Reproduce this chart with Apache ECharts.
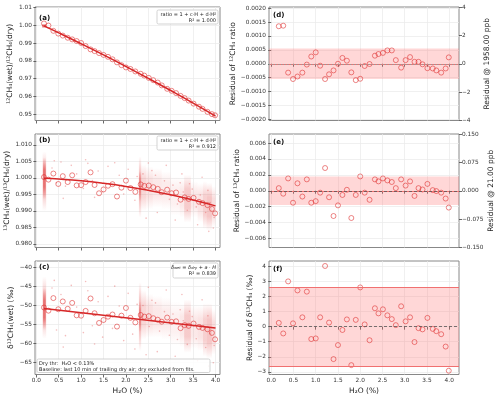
<!DOCTYPE html>
<html>
<head>
<meta charset="utf-8">
<script src="https://cdn.jsdelivr.net/npm/echarts@6/dist/echarts.min.js"></script>
<style>
  html, body { margin: 0; padding: 0; background: #fff; }
  #main { width: 500px; height: 399px; }
</style>
</head>
<body>
<div id="main"></div>
<script>
// bin centres, H2O (%)
var binX = [0.17, 0.27, 0.38, 0.49, 0.59, 0.70, 0.80, 0.90, 1.00, 1.10, 1.21, 1.30, 1.40, 1.50, 1.60, 1.70, 1.80, 1.90, 2.00, 2.10,
  2.21, 2.33, 2.41, 2.51, 2.61, 2.71, 2.80, 2.92, 3.02, 3.12, 3.22, 3.31, 3.40, 3.51, 3.63, 3.71, 3.82, 3.92, 3.99];

// (a) 12CH4 wet/dry ratio, binned
var ratio12 = [1.00105, 0.99987, 0.99689, 0.99534, 0.99422, 0.99302, 0.99210, 0.99116, 0.99007, 0.98834, 0.98648, 0.98552,
  0.98439, 0.98337, 0.98229, 0.98090, 0.97918, 0.97760, 0.97633, 0.97547, 0.97408, 0.97277, 0.97175, 0.97044, 0.96917,
  0.96783, 0.96623, 0.96431, 0.96319, 0.96190, 0.96033, 0.95907, 0.95770, 0.95599, 0.95425, 0.95303, 0.95136, 0.95008, 0.94942];
var fitAX = [0.17, 0.5, 1.0, 1.5, 2.0, 2.5, 3.0, 3.5, 4.0];
var fitAY = [0.99970, 0.99577, 0.98965, 0.98335, 0.97686, 0.97020, 0.96335, 0.95630, 0.94899];

// (b) 13CH4 wet/dry ratio, binned
var ratio13 = [1.00024, 0.99947, 1.00131, 0.99816, 1.00052, 0.99874, 1.00078, 0.99772, 0.99779, 0.99873, 1.00167, 0.99785,
  0.99534, 0.99649, 0.99762, 0.99809, 0.99435, 0.99704, 0.99916, 0.99691, 0.99576, 0.99802, 0.99757, 0.99769, 0.99718,
  0.99668, 0.99566, 0.99642, 0.99534, 0.99557, 0.99339, 0.99408, 0.99362, 0.99395, 0.99275, 0.99235, 0.99175, 0.99060, 0.98924];
var fitBX = [0.17, 0.5, 1.0, 1.5, 2.0, 2.5, 3.0, 3.5, 4.0];
var fitBY = [0.99991, 0.99966, 0.99912, 0.99836, 0.99741, 0.99624, 0.99487, 0.99329, 0.99151];

// (c) delta13CH4 wet (permil), binned
var delta = [-50.61, -51.44, -48.14, -51.07, -49.02, -50.95, -49.40, -52.67, -52.76, -51.50, -48.24, -52.12, -54.67, -53.89,
  -53.02, -52.45, -55.62, -52.75, -50.74, -53.32, -54.52, -52.57, -53.02, -52.88, -53.42, -53.82, -54.34, -53.25, -54.38,
  -54.24, -56.03, -55.23, -55.43, -54.82, -55.71, -55.97, -56.32, -57.28, -58.96];
var fitCX = [0.17, 4.0];
var fitCY = [-50.86, -56.00];

// residuals (d) 12CH4 ratio, (e) 13CH4 ratio, (f) delta13CH4
var res12 = [0.00135, 0.00137, -0.00032, -0.00055, -0.00046, -0.00032, -0.00003, 0.00026, 0.00041, -0.00007, -0.00055,
  -0.00038, -0.00024, 0.00000, 0.00021, 0.00011, -0.00031, -0.00059, -0.00054, -0.00008, -0.00001, 0.00029, 0.00035,
  0.00039, 0.00048, 0.00048, 0.00013, -0.00014, 0.00013, 0.00024, 0.00007, 0.00007, -0.00002, -0.00016, -0.00017,
  -0.00024, -0.00032, -0.00017, 0.00023];
var res13 = [0.00033, -0.00037, 0.00155, -0.00151, 0.00094, -0.00073, 0.00143, -0.00151, -0.00131, -0.00024, 0.00286,
  -0.00082, -0.00318, -0.00184, -0.00053, 0.00012, -0.00343, -0.00053, 0.00180, -0.00024, -0.00114, 0.00143, 0.00118,
  0.00155, 0.00130, 0.00110, 0.00033, 0.00143, 0.00065, 0.00118, -0.00065, 0.00033, 0.00016, 0.00086, 0.00008, -0.00004,
  -0.00024, -0.00098, -0.00212];
var resDelta = [0.25, -0.45, 3.00, 0.22, 2.40, 0.62, 2.32, -0.82, -0.78, 0.62, 4.02, 0.27, -2.15, -1.22, -0.22, 0.48, -2.55,
  0.45, 2.60, 0.15, -0.90, 1.22, 0.88, 1.15, 0.75, 0.50, 0.10, 1.35, 0.35, 0.62, -1.02, -0.10, -0.18, 0.58, -0.15, -0.30,
  -0.50, -1.32, -2.92];
var band12 = 0.00055, band13 = 0.0018, bandDelta = 2.6;

// raw-point clouds: [x from, x to, y low, y high, opacity]
var cloudA = [[0.13, 0.22, 0.9984, 1.0009, 0.7]];
var cloudB = [
  [0.14, 0.22, 0.9900, 1.0080, 0.30], [0.15, 0.21, 0.9935, 1.0062, 0.65],
  [2.29, 2.34, 0.9880, 1.0065, 0.35], [2.29, 2.34, 0.9930, 1.0020, 0.45],
  [2.34, 2.45, 0.9900, 1.0040, 0.22], [2.45, 2.60, 0.9905, 1.0035, 0.16],
  [2.60, 2.80, 0.9910, 1.0030, 0.12], [2.80, 3.00, 0.9905, 1.0020, 0.10],
  [3.00, 3.20, 0.9885, 1.0005, 0.08], [3.20, 3.30, 0.9880, 1.0000, 0.12],
  [3.30, 3.45, 0.9865, 1.0010, 0.28], [3.45, 3.60, 0.9880, 0.9990, 0.12],
  [3.60, 3.72, 0.9865, 0.9985, 0.15], [3.72, 3.80, 0.9845, 0.9990, 0.25],
  [3.80, 3.92, 0.9840, 0.9985, 0.30], [3.92, 4.00, 0.9850, 0.9975, 0.18]];
var cloudC = [
  [0.14, 0.22, -58.8, -42.5, 0.30], [0.15, 0.21, -56.5, -45.5, 0.65],
  [2.29, 2.34, -62.0, -44.0, 0.35], [2.29, 2.34, -57.0, -49.0, 0.45],
  [2.34, 2.45, -59.0, -46.0, 0.22], [2.45, 2.60, -58.5, -47.0, 0.16],
  [2.60, 2.80, -58.5, -47.5, 0.12], [2.80, 3.00, -59.0, -48.0, 0.10],
  [3.00, 3.20, -60.5, -49.0, 0.08], [3.20, 3.30, -61.0, -49.5, 0.12],
  [3.30, 3.45, -62.5, -48.5, 0.28], [3.45, 3.60, -61.5, -50.0, 0.12],
  [3.60, 3.72, -62.0, -50.0, 0.15], [3.72, 3.80, -63.5, -49.5, 0.25],
  [3.80, 3.92, -64.0, -49.5, 0.30], [3.92, 4.00, -63.0, -51.0, 0.18]];
var dotsB = [[0.35, 1.0030], [0.45, 0.9985], [0.55, 1.0048], [0.65, 0.9975], [0.78, 1.0038], [0.90, 1.0012], [1.05, 0.9968],
  [1.15, 1.0044], [1.25, 0.9992], [1.38, 1.0021], [1.48, 0.9958], [1.60, 1.0035], [1.70, 0.9979], [1.85, 1.0008],
  [1.95, 0.9951], [2.05, 1.0026], [2.15, 0.9972], [2.25, 1.0004], [0.60, 0.9938], [1.10, 1.0055], [1.75, 1.0046],
  [2.20, 0.9932], [0.40, 1.0052], [1.30, 0.9941], [2.50, 1.0045], [2.70, 0.9895], [2.90, 1.0038], [3.10, 0.9872],
  [3.25, 1.0012], [3.60, 0.9858], [3.95, 0.9848], [3.70, 1.0002], [2.45, 0.9878], [3.85, 0.9838],
  [2.38, 1.0012], [2.52, 0.9968], [2.66, 1.0008], [2.75, 0.9952], [2.86, 0.9991], [2.97, 0.9935], [3.05, 0.9978],
  [3.15, 0.9921], [3.28, 0.9957], [3.37, 0.9902], [3.48, 0.9966], [3.57, 0.9912], [3.66, 0.9948], [3.78, 0.9895],
  [3.88, 0.9925], [3.97, 0.9880], [3.42, 0.9982], [3.83, 0.9962], [2.58, 1.0022], [3.21, 0.9985]];
var dotsC = [[0.35, -45.5], [0.45, -56.5], [0.55, -47.2], [0.65, -58.0], [0.78, -44.8], [0.90, -50.5], [1.05, -57.2],
  [1.15, -46.2], [1.25, -55.4], [1.38, -49.1], [1.48, -58.4], [1.60, -47.7], [1.70, -56.1], [1.85, -50.2], [1.95, -59.3],
  [2.05, -46.9], [2.15, -57.6], [2.25, -49.8], [0.60, -61.0], [1.10, -43.8], [1.75, -45.0], [2.20, -61.5], [0.40, -43.5],
  [1.30, -60.2], [2.50, -45.3], [2.70, -62.2], [2.90, -46.0], [3.10, -63.4], [3.25, -47.2], [3.60, -64.6], [3.95, -65.1],
  [3.70, -48.6], [2.45, -63.0], [3.85, -66.0],
  [2.38, -50.1], [2.52, -55.6], [2.66, -49.4], [2.75, -56.8], [2.86, -51.7], [2.97, -57.9], [3.05, -52.3],
  [3.15, -59.0], [3.28, -54.1], [3.37, -60.3], [3.48, -53.0], [3.57, -58.8], [3.66, -55.2], [3.78, -61.1],
  [3.88, -57.4], [3.97, -60.6], [3.42, -51.6], [3.83, -52.8], [2.58, -48.7], [3.21, -51.2]];

// tick labels
var xTicks = [0, 0.5, 1, 1.5, 2, 2.5, 3, 3.5, 4];
var aTicks = [0.95, 0.96, 0.97, 0.98, 0.99, 1.00, 1.01];
var bTicks = [0.980, 0.985, 0.990, 0.995, 1.000, 1.005, 1.010];
var cTicks = [-65, -60, -55, -50, -45, -40];
var dTicks = [-0.002, -0.0015, -0.001, -0.0005, 0, 0.0005, 0.001, 0.0015, 0.002];
var dTicksR = [-4, -2, 0, 2, 4];
var eTicks = [-0.006, -0.004, -0.002, 0, 0.002, 0.004, 0.006];
var eTicksR = [-0.15, -0.075, 0, 0.075, 0.15];
var fTicks = [-3, -2, -1, 0, 1, 2, 3, 4];

var FONT = 'DejaVu Sans';
var RED = '#d62728';
var CIRC = 'rgba(222,45,45,0.85)';

function mn(s) { return s.replace(/-/g, '\u2212'); }
function fmt(d) { return function (v) { return mn(Number(v).toFixed(d)); }; }
function pairs(xs, ys) { return xs.map(function (x, i) { return [x, ys[i]]; }); }

function xAx(g, min, max, labels, name) {
  return {
    type: 'value', gridIndex: g, min: min, max: max,
    axisLine: { show: false },
    axisTick: { show: true, customValues: xTicks, length: 3, lineStyle: { color: '#444', width: 0.8 } },
    axisLabel: { show: labels, customValues: xTicks, formatter: fmt(1), fontSize: 5.8, color: '#333', fontFamily: FONT, margin: 3 },
    splitLine: { show: true, lineStyle: { color: '#e9e9e9', width: 0.7 } },
    name: name || '', nameLocation: 'middle', nameGap: 13,
    nameTextStyle: { fontSize: 7.5, color: '#222', fontFamily: FONT }
  };
}
function yAx(g, min, max, ticks, dec, name, gap, right) {
  return {
    type: 'value', gridIndex: g, min: min, max: max, position: right ? 'right' : 'left',
    axisLine: { show: false },
    axisTick: { show: true, customValues: ticks, length: 3, lineStyle: { color: '#444', width: 0.8 } },
    axisLabel: { customValues: ticks, formatter: fmt(dec), fontSize: 5.8, color: '#333', fontFamily: FONT, margin: 3 },
    splitLine: { show: !right, lineStyle: { color: '#e9e9e9', width: 0.7 } },
    name: name, nameLocation: 'middle', nameGap: gap, nameRotate: 90,
    nameTextStyle: { fontSize: 7.5, color: '#222', fontFamily: FONT }
  };
}

function cloudItem(params, api) {
  var p0 = api.coord([api.value(0), api.value(3)]);
  var p1 = api.coord([api.value(1), api.value(2)]);
  var a = api.value(4);
  return {
    type: 'rect',
    shape: { x: p0[0], y: p0[1], width: p1[0] - p0[0], height: p1[1] - p0[1] },
    style: {
      fill: new echarts.graphic.LinearGradient(0, 0, 0, 1, [
        { offset: 0, color: 'rgba(225,70,70,0)' },
        { offset: 0.3, color: 'rgba(225,70,70,' + a + ')' },
        { offset: 0.7, color: 'rgba(225,70,70,' + a + ')' },
        { offset: 1, color: 'rgba(225,70,70,0)' }])
    }
  };
}
function cloud(g, data) {
  return { type: 'custom', xAxisIndex: g, yAxisIndex: g, renderItem: cloudItem, data: data,
    encode: { x: [0, 1], y: [2, 3] }, clip: true, silent: true, z: 1 };
}
function dots(g, data) {
  return { type: 'scatter', xAxisIndex: g, yAxisIndex: g, data: data, symbolSize: 1.6,
    itemStyle: { color: 'rgba(225,70,70,0.45)' }, silent: true, z: 2 };
}
function circles(g, ys) {
  return { type: 'scatter', xAxisIndex: g, yAxisIndex: g, data: pairs(binX, ys), symbol: 'circle', symbolSize: 5,
    itemStyle: { color: 'rgba(0,0,0,0)', borderColor: CIRC, borderWidth: 0.85 }, z: 4 };
}
function fit(g, xs, ys) {
  return { type: 'line', xAxisIndex: g, yAxisIndex: g, data: pairs(xs, ys), showSymbol: false, smooth: true,
    lineStyle: { color: RED, width: 1.5 }, z: 5, silent: true };
}
function resid(g, ys, band, zeroStyle) {
  var s = circles(g, ys);
  s.markArea = { silent: true, itemStyle: { color: 'rgba(255,110,110,0.28)' }, data: [[{ yAxis: -band }, { yAxis: band }]] };
  s.markLine = { silent: true, symbol: 'none', label: { show: false },
    data: [
      { yAxis: band, lineStyle: { color: '#f07070', width: 1, type: 'solid' } },
      { yAxis: -band, lineStyle: { color: '#f07070', width: 1, type: 'solid' } },
      { yAxis: 0, lineStyle: zeroStyle }] };
  return s;
}

var L = 35, LW = 185, R = 269, RW = 190, H = 113.5, T = [7, 134, 261];

function legendBox(x, y, w, h) {
  return { type: 'rect', shape: { x: x, y: y, width: w, height: h, r: 1.5 },
    style: { fill: 'rgba(255,255,255,0.85)', stroke: '#c8c8c8', lineWidth: 0.8 }, z: 100 };
}
function panelTag(x, y, t) {
  return { type: 'text', x: x, y: y, z: 100,
    style: { text: t, font: 'bold 7px "DejaVu Sans"', fill: '#111' } };
}

var option = {
  animation: false,
  backgroundColor: '#fff',
  grid: [
    { left: L, top: T[0], width: LW, height: H },
    { left: L, top: T[1], width: LW, height: H },
    { left: L, top: T[2], width: LW, height: H },
    { left: R, top: T[0], width: RW, height: H },
    { left: R, top: T[1], width: RW, height: H },
    { left: R, top: T[2], width: RW, height: H }
  ].map(function (g) { g.show = true; g.borderColor = '#888'; g.borderWidth = 1; return g; }),
  xAxis: [
    xAx(0, -0.03, 4.1, false), xAx(1, -0.03, 4.1, false), xAx(2, -0.03, 4.1, true, 'H\u2082O (%)'),
    xAx(3, -0.05, 4.22, false), xAx(4, -0.05, 4.22, false), xAx(5, -0.05, 4.22, true, 'H\u2082O (%)')
  ],
  yAxis: [
    yAx(0, 0.9465, 1.0103, aTicks, 2, '\u00b9\u00b2CH\u2084(wet)/\u00b9\u00b2CH\u2084(dry)', 21),
    yAx(1, 0.9789, 1.0133, bTicks, 3, '\u00b9\u00b3CH\u2084(wet)/\u00b9\u00b3CH\u2084(dry)', 24),
    yAx(2, -68.2, -38.4, cTicks, 0, '\u03b4\u00b9\u00b3CH\u2084(wet) (\u2030)', 20),
    yAx(3, -0.002043, 0.002043, dTicks, 4, 'Residual of \u00b9\u00b2CH\u2084 ratio', 27),
    yAx(4, -0.007143, 0.007143, eTicks, 3, 'Residual of \u00b9\u00b3CH\u2084 ratio', 26),
    yAx(5, -3.17, 4.35, fTicks, 0, 'Residual of \u03b4\u00b9\u00b3CH\u2084 (\u2030)', 14),
    yAx(3, -4, 4, dTicksR, 0, 'Residual @ 1958.00 ppb', 24, true),
    yAx(4, -0.15, 0.15, eTicksR, 3, 'Residual @ 21.00 ppb', 24, true)
  ],
  series: [
    cloud(0, cloudA), circles(0, ratio12), fit(0, fitAX, fitAY),
    cloud(1, cloudB), dots(1, dotsB), circles(1, ratio13), fit(1, fitBX, fitBY),
    cloud(2, cloudC), dots(2, dotsC), circles(2, delta), fit(2, fitCX, fitCY),
    resid(3, res12, band12, { color: '#999', width: 1, type: [1.5, 1.5] }),
    resid(4, res13, band13, { color: '#555', width: 0.8, type: [3, 2] }),
    resid(5, resDelta, bandDelta, { color: '#555', width: 0.8, type: [3, 2] })
  ],
  graphic: [
    panelTag(39, 15, '(a)'), panelTag(39, 137, '(b)'), panelTag(39, 264, '(c)'),
    panelTag(273, 12, '(d)'), panelTag(273, 139, '(e)'), panelTag(273, 266, '(f)'),
    legendBox(157, 10, 61, 14),
    { type: 'text', z: 101, x: 216, y: 11.5,
      style: { text: 'ratio = 1 + c\u00b7H + d\u00b7H\u00b2\nR\u00b2 = 1.000', align: 'right', font: '5px "DejaVu Sans"', lineHeight: 6, fill: '#222' } },
    legendBox(157, 136, 61, 14),
    { type: 'text', z: 101, x: 216, y: 137.5,
      style: { text: 'ratio = 1 + c\u00b7H + d\u00b7H\u00b2\nR\u00b2 = 0.912', align: 'right', font: '5px "DejaVu Sans"', lineHeight: 6, fill: '#222' } },
    legendBox(173, 263, 45, 15),
    { type: 'text', z: 101, x: 216, y: 264,
      style: {
        text: '{i|\u03b4}{s|wet}{n| = }{i|\u03b4}{s|dry}{n| + }{i|a}{n| \u00b7 }{i|H}\n{n|R\u00b2 = 0.839}',
        align: 'right', fill: '#222',
        rich: {
          n: { fontSize: 5, fontFamily: FONT, lineHeight: 6.5, fill: '#222' },
          i: { fontSize: 5, fontFamily: FONT, fontStyle: 'italic', lineHeight: 6.5, fill: '#222' },
          s: { fontSize: 3.6, fontFamily: FONT, fontStyle: 'italic', lineHeight: 6.5, verticalAlign: 'bottom', fill: '#222' }
        }
      } },
    legendBox(37, 359, 173, 13.5),
    { type: 'text', z: 101, x: 39, y: 360.5,
      style: { text: 'Dry thr:  H\u2082O < 0.13%\nBaseline: last 10 min of trailing dry air; dry excluded from fits.', font: '5px "DejaVu Sans"', lineHeight: 6, fill: '#222' } }
  ]
};

var chart = echarts.init(document.getElementById('main'));
chart.setOption(option);
</script>
</body>
</html>
